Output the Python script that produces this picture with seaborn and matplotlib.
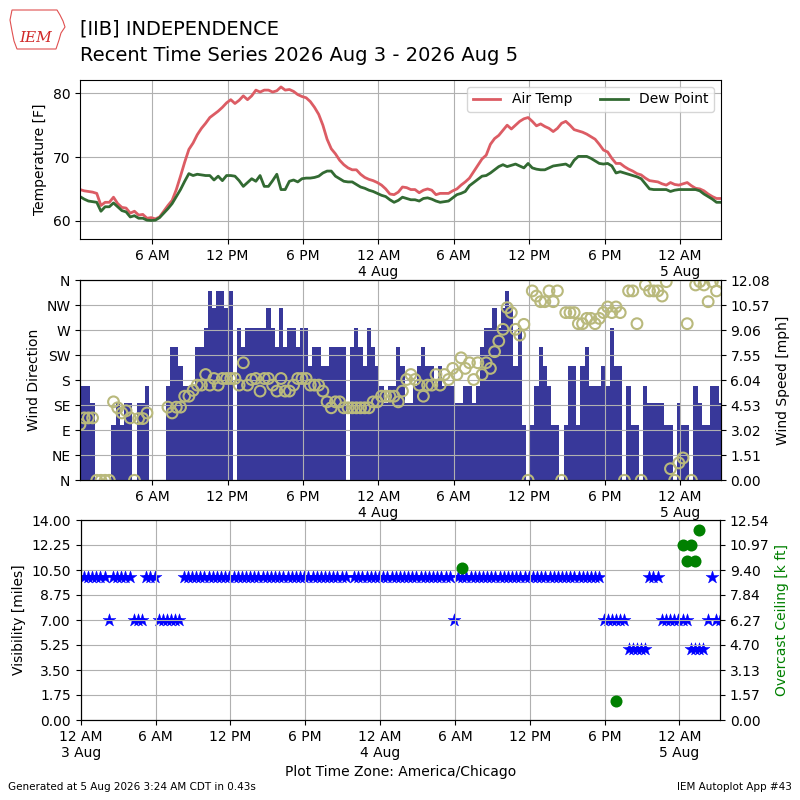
import numpy as np
import pandas as pd
import seaborn as sns
import matplotlib.pyplot as plt
import matplotlib.dates as mdates
from matplotlib.ticker import FuncFormatter, FixedLocator
from matplotlib.patches import Polygon

nan = np.nan

# observations every 20 minutes, first one at 12:15 AM
obs_start = "2026-08-03 00:15"
plot_start = "2026-08-03 00:00"

air_temp = [
    64.9, 64.7, 64.6, 64.5, 64.3, 62.4, 62.9, 62.9, 63.7, 62.7,
    62.1, 62.0, 61.2, 61.5, 60.9, 61.0, 60.4, 60.5, 60.3, 60.6,
    61.5, 62.4, 63.2, 64.9, 67.0, 69.2, 71.2, 72.2, 73.5, 74.5,
    75.3, 76.2, 76.7, 77.2, 77.8, 78.5, 79.0, 78.4, 78.9, 79.6,
    79.0, 79.6, 80.5, 80.2, 80.5, 80.5, 80.2, 80.4, 81.0, 80.5,
    80.6, 80.3, 79.8, 79.5, 79.3, 78.7, 77.8, 76.7, 75.0, 72.8,
    71.3, 70.5, 69.5, 68.8, 68.3, 68.0, 68.0, 67.3, 66.8, 66.5,
    66.3, 66.0, 65.6, 65.0, 64.2, 64.1, 64.5, 65.3, 65.2, 64.9,
    64.9, 64.4, 64.8, 65.0, 64.8, 64.1, 64.3, 64.3, 64.3, 64.7,
    65.0, 65.6, 66.1, 66.7, 67.7, 68.7, 69.7, 70.3, 72.0, 72.9,
    73.4, 74.2, 75.0, 74.4, 75.0, 75.6, 76.0, 76.2, 75.6, 74.9,
    75.2, 74.8, 74.5, 74.0, 74.5, 75.3, 75.6, 75.0, 74.3, 74.1,
    73.9, 73.6, 73.2, 72.8, 72.0, 71.1, 70.8, 69.8, 69.0, 69.0,
    68.5, 68.1, 67.8, 67.4, 67.2, 66.7, 66.3, 66.2, 66.1, 65.8,
    65.6, 66.0, 65.7, 65.6, 65.8, 66.0, 65.5, 65.1, 65.0, 64.7,
    64.2, 63.8, 63.5, 63.5]

dew_point = [
    63.8, 63.4, 63.1, 63.0, 62.9, 61.5, 62.2, 62.2, 62.8, 62.2,
    61.6, 61.4, 60.6, 60.8, 60.4, 60.4, 60.1, 60.05, 60.1, 60.5,
    61.2, 61.9, 62.7, 63.8, 64.9, 66.2, 67.4, 67.1, 67.3, 67.2,
    67.1, 67.1, 66.4, 67.0, 66.3, 67.1, 67.1, 67.0, 66.3, 65.4,
    66.0, 66.6, 66.2, 67.1, 65.4, 65.4, 66.3, 67.3, 64.9, 64.9,
    66.2, 66.4, 66.1, 66.6, 66.7, 66.7, 66.8, 67.0, 67.5, 67.8,
    67.8, 67.0, 66.6, 66.2, 66.1, 66.1, 65.7, 65.3, 65.1, 64.8,
    64.6, 64.3, 64.0, 63.8, 63.3, 62.9, 63.2, 63.7, 63.5, 63.3,
    63.3, 63.1, 63.5, 63.6, 63.4, 63.1, 62.9, 63.0, 63.1, 63.6,
    64.1, 64.3, 64.6, 65.5, 66.0, 66.5, 67.0, 67.1, 67.5, 68.0,
    68.5, 68.8, 68.5, 68.7, 68.9, 68.6, 68.3, 69.0, 68.3, 68.1,
    68.0, 68.0, 68.3, 68.6, 68.7, 68.8, 68.9, 68.5, 69.5, 70.1,
    70.1, 70.1, 69.8, 69.4, 69.0, 68.9, 69.0, 68.6, 67.5, 67.7,
    67.5, 67.3, 67.1, 66.9, 66.6, 65.8, 65.0, 64.9, 64.9, 64.9,
    64.9, 64.6, 64.8, 64.9, 64.9, 64.9, 64.9, 64.9, 64.7, 64.2,
    63.8, 63.4, 62.9, 62.9]

# wind direction in degrees, 0 = calm, nan = missing / variable
wind_dir = [
    170, 170, 170, 140, 0, 0, 0, 0, 100, 140,
    100, 140, 140, 0, 140, 140, 170, nan, nan, nan,
    nan, 170, 240, 240, 205, 170, 170, 170, 240, 240,
    275, 340, 310, 340, 340, 310, 340, nan, 275, 240,
    275, 275, 275, 275, 275, 310, 275, 240, 310, 240,
    275, 275, 240, 275, 275, 205, 240, 240, 205, 205,
    240, 240, 240, 240, nan, 240, 275, 240, 205, 275,
    240, 205, 170, 140, 170, 170, 240, 205, 140, 140,
    170, 205, 240, 205, 205, 170, 205, 170, 170, 170,
    140, 140, 170, 170, 140, 170, 240, 275, 275, 310,
    275, 310, 340, 310, 205, 275, 100, 0, 100, 170,
    240, 205, 170, 100, 100, 0, 100, 205, 205, 100,
    205, 240, 170, 170, 170, 205, 170, 275, 205, 205,
    0, 170, 100, 100, 0, 170, 140, 140, 140, 140,
    100, 100, 0, 140, 100, 100, 0, 170, 140, 100,
    100, 170, 170, 140]

wind_mph = [
    3.37, 3.77, 3.77, 3.77, 0, 0, 0, 0, 4.74, 4.38,
    4.07, 4.20, 3.77, 0, 3.73, 3.73, 4.07, nan, nan, nan,
    nan, 4.42, 4.07, 4.42, 4.42, 5.08, 5.08, 5.43, 5.75, 5.75,
    6.39, 5.75, 6.15, 5.75, 6.15, 6.15, 6.15, 6.15, 5.75, 7.10,
    5.75, 6.09, 6.15, 5.39, 6.15, 6.15, 5.75, 5.39, 6.15, 5.39,
    5.39, 5.75, 6.15, 6.15, 6.15, 5.75, 5.75, 5.75, 5.39, 4.74,
    4.38, 4.74, 4.74, 4.38, 4.38, 4.38, 4.38, 4.38, 4.38, 4.38,
    4.74, 4.74, 5.08, 5.08, 5.08, 5.08, 4.74, 5.39, 6.09, 6.39,
    6.09, 5.75, 5.08, 5.75, 5.75, 6.39, 5.75, 6.39, 6.09, 6.76,
    6.39, 7.40, 6.76, 7.10, 6.09, 7.10, 6.39, 7.10, 6.76, 7.77,
    8.41, 9.12, 10.43, 10.13, 9.12, 8.77, 9.42, 0, 11.44, 11.13,
    10.79, 10.79, 11.44, 10.79, 11.44, 0, 10.13, 10.13, 10.13, 9.46,
    9.46, 9.78, 9.78, 9.46, 9.78, 10.13, 10.47, 10.13, 10.47, 10.13,
    0, 11.44, 11.44, 9.46, 0, 11.80, 11.44, 11.44, 11.44, 11.13,
    12.00, 0.70, 0, 1.05, 1.35, 9.46, 0, 11.80, 12.00, 11.80,
    10.79, 12.00, 11.44, 12.00]

vis_miles = ([10] * 6 + [7] + [10] * 5 + [7] * 3 + [10] * 3 + [7] * 6
             + [10] * 40 + [nan] + [10] * 24 + [7] + [10] * 35
             + [7] * 6 + [5] * 5 + [10] * 3 + [7] * 7 + [5] * 4
             + [7, 10, 7, 7])

# overcast ceiling reports (observation number, thousands of feet)
ceil_obs = [91, 128, 144, 145, 146, 147, 148]
ceil_kft = [9.51, 1.19, 10.95, 9.97, 10.95, 9.97, 11.94]

dir_labels = ["N", "NE", "E", "SE", "S", "SW", "W", "NW", "N"]

valid = pd.date_range(obs_start, periods=len(air_temp), freq="20min")
xnum = mdates.date2num(valid)
x0 = mdates.date2num(pd.Timestamp(plot_start))


def time_label(x, pos):
    dt = mdates.num2date(x)
    lbl = dt.strftime("%I %p").lstrip("0")
    if dt.hour == 0:
        lbl += "\n%d %s" % (dt.day, dt.strftime("%b"))
    return lbl


def time_axis(ax, start):
    ax.set_xlim(start, xnum[-1])
    ax.xaxis.set_major_locator(mdates.HourLocator(byhour=[0, 6, 12, 18]))
    ax.xaxis.set_major_formatter(FuncFormatter(time_label))
    ax.grid(True, color="#b0b0b0", lw=0.8)


fig = plt.figure(figsize=(8, 8), dpi=100)

# temperature panel
ax1 = fig.add_axes([0.1, 0.7009, 0.8009, 0.1992])
sns.lineplot(x=xnum, y=air_temp, ax=ax1, color="#dc5c64", lw=2, label="Air Temp")
sns.lineplot(x=xnum, y=dew_point, ax=ax1, color="#326a32", lw=2, label="Dew Point")
ax1.set_ylim(57.1, 82.1)
ax1.set_yticks([60, 70, 80])
ax1.set_ylabel("Temperature [F]")
time_axis(ax1, xnum[0])
ax1.legend(loc="upper right", ncol=2, fontsize=10)

# wind panel
ax2 = fig.add_axes([0.1, 0.3996, 0.8009, 0.25])
ax2.bar(xnum, wind_dir, width=1 / 72.0, color="#38389a", align="center")
ax2.set_ylim(0, 360)
ax2.yaxis.set_major_locator(FixedLocator(np.arange(0, 361, 45)))
ax2.set_yticklabels(dir_labels)
ax2.set_ylabel("Wind Direction")
ax2.set_axisbelow(False)
time_axis(ax2, xnum[0])

ax2b = ax2.twinx()
sns.scatterplot(x=xnum, y=wind_mph, ax=ax2b, marker="o", s=60,
                facecolor="none", edgecolor="#b9b97c", linewidth=1.5)
ax2b.set_ylim(0, 12.08)
ax2b.set_yticks(np.linspace(0, 12.08, 9))
ax2b.yaxis.set_major_formatter(FuncFormatter(lambda v, p: "%.2f" % v))
ax2b.set_ylabel("Wind Speed [mph]")
ax2b.set_xlim(xnum[0], xnum[-1])

# visibility / ceiling panel
ax3 = fig.add_axes([0.1009, 0.1, 0.7991, 0.25])
sns.scatterplot(x=xnum, y=vis_miles, ax=ax3, marker="*", s=95,
                color="b", edgecolor="b", linewidth=0.3)
ax3.set_ylim(0, 14)
ax3.set_yticks(np.arange(0, 14.01, 1.75))
ax3.yaxis.set_major_formatter(FuncFormatter(lambda v, p: "%.2f" % v))
ax3.set_ylabel("Visibility [miles]")
ax3.set_xlabel("Plot Time Zone: America/Chicago")
time_axis(ax3, x0)

ax3b = ax3.twinx()
sns.scatterplot(x=xnum[ceil_obs], y=ceil_kft, ax=ax3b, s=75,
                color="g", edgecolor="g", linewidth=0)
ax3b.set_ylim(0, 12.54)
ax3b.set_yticks(np.linspace(0, 12.54, 9))
ax3b.yaxis.set_major_formatter(FuncFormatter(lambda v, p: "%.2f" % v))
ax3b.set_ylabel("Overcast Ceiling [k ft]", color="g")
ax3b.set_xlim(x0, xnum[-1])
ax3.set_xlabel("Plot Time Zone: America/Chicago")

# header / logo / footer
fig.text(0.1, 0.964, "[IIB] INDEPENDENCE", fontsize=14, va="center")
fig.text(0.1, 0.931, "Recent Time Series 2026 Aug 3 - 2026 Aug 5",
         fontsize=14, va="center")
iowa = [(12, 10), (57, 10), (60, 15), (63, 21), (65, 27), (61, 33), (59, 40),
        (56, 49), (17, 49), (14, 41), (12, 31), (10, 20)]
fig.patches.append(Polygon([(px / 800.0, 1 - py / 800.0) for px, py in iowa],
                           closed=True, fill=False, ec="#e05050", lw=0.8,
                           transform=fig.transFigure))
fig.text(0.045, 0.953, "IEM", color="#d02828", fontsize=11, style="italic",
         family="DejaVu Serif", ha="center", va="center")
fig.text(0.01, 0.012, "Generated at 5 Aug 2026 3:24 AM CDT in 0.43s", fontsize=7.5)
fig.text(0.99, 0.012, "IEM Autoplot App #43", fontsize=7.5, ha="right")

fig.savefig("out.png", dpi=100)
